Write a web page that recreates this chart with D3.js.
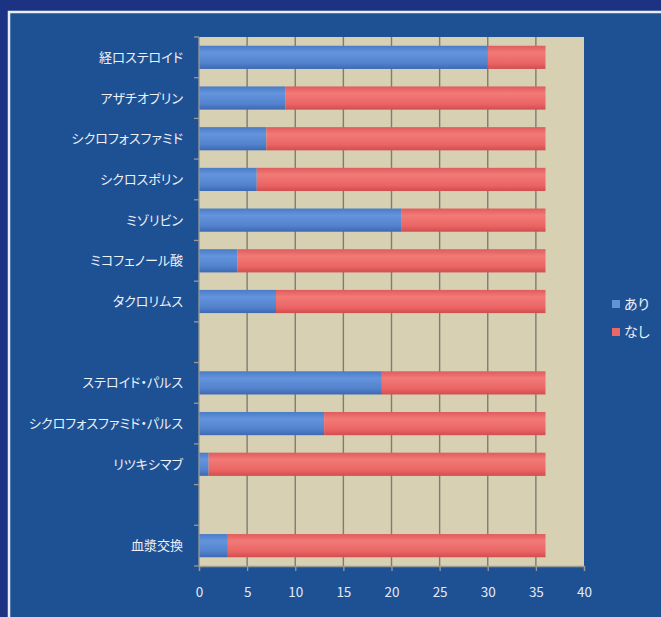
<!DOCTYPE html>
<html>
<head>
<meta charset="utf-8">
<script src="https://cdn.jsdelivr.net/npm/d3@7"></script>
<style>
  html, body { margin: 0; padding: 0; background: #1b3382; }
  svg { display: block; }
  text { font-family: "Noto Sans CJK JP", "Noto Sans", sans-serif; font-feature-settings: "palt"; }
</style>
</head>
<body>
<svg id="chart" width="661" height="617"></svg>
<script>
// Treatment categories (blank entries are spacer rows between groups)
const categories = ["経口ステロイド", "アザチオプリン", "シクロフォスファミド", "シクロスポリン", "ミゾリビン",
  "ミコフェノール酸", "タクロリムス", "", "ステロイド・パルス", "シクロフォスファミド・パルス", "リツキシマブ", "", "血漿交換"];
// Patients with the treatment ("あり") and without it ("なし")
const ari   = [30, 9, 7, 6, 21, 4, 8, null, 19, 13, 1, null, 3];
const nashi = [6, 27, 29, 30, 15, 32, 28, null, 17, 23, 35, null, 33];
const seriesNames = ["あり", "なし"];
const xTicks = [0, 5, 10, 15, 20, 25, 30, 35, 40];

const svg = d3.select("#chart");
const W = 661, H = 617;

// Outer frame and inner panel
svg.append("rect").attr("width", W).attr("height", H).attr("fill", "#1b3382");
svg.append("rect").attr("x", 9).attr("y", 12).attr("width", W).attr("height", H)
  .attr("fill", "#1e5194").attr("stroke", "#e9edf6").attr("stroke-width", 2.5);

const plot = { left: 199, right: 584, top: 37, bottom: 566 };

const x = d3.scaleLinear().domain([0, 40]).range([plot.left, plot.right]);
const y = d3.scaleBand().domain(d3.range(categories.length))
  .range([plot.top, plot.bottom]).paddingInner(0.43).paddingOuter(0.215);

// Bar gradients
const defs = svg.append("defs");
function grad(id, stops) {
  const g = defs.append("linearGradient").attr("id", id)
    .attr("x1", 0).attr("y1", 0).attr("x2", 0).attr("y2", 1);
  stops.forEach(([o, c]) => g.append("stop").attr("offset", o).attr("stop-color", c));
}
grad("gBlue", [[0, "#4a7bc6"], [0.3, "#6394dc"], [0.75, "#5282cc"], [1, "#3d68b2"]]);
grad("gRed", [[0, "#e05c5c"], [0.3, "#f27a77"], [0.75, "#ea6564"], [1, "#d14d4f"]]);

// Plot area
svg.append("rect").attr("x", plot.left).attr("y", plot.top)
  .attr("width", plot.right - plot.left).attr("height", plot.bottom - plot.top)
  .attr("fill", "#d8d0b2");

// Vertical gridlines
svg.append("g").selectAll("line").data(xTicks.filter(t => t > 0 && t < 40)).join("line")
  .attr("x1", d => x(d)).attr("x2", d => x(d))
  .attr("y1", plot.top).attr("y2", plot.bottom)
  .attr("stroke", "#7e7c73").attr("stroke-width", 1.4);

// Stacked bars
const rows = categories.map((c, i) => ({ i, c, a: ari[i], n: nashi[i] })).filter(d => d.a != null);
const barG = svg.append("g");
barG.selectAll("rect.ari").data(rows).join("rect").attr("class", "ari")
  .attr("x", x(0)).attr("y", d => y(d.i))
  .attr("width", d => x(d.a) - x(0)).attr("height", y.bandwidth())
  .attr("fill", "url(#gBlue)");
barG.selectAll("rect.nashi").data(rows).join("rect").attr("class", "nashi")
  .attr("x", d => x(d.a)).attr("y", d => y(d.i))
  .attr("width", d => x(d.a + d.n) - x(d.a)).attr("height", y.bandwidth())
  .attr("fill", "url(#gRed)");

// X axis
const xAxis = svg.append("g").attr("transform", `translate(0,${plot.bottom})`)
  .call(d3.axisBottom(x).tickValues(xTicks).tickSize(5).tickPadding(16));
xAxis.select(".domain").attr("stroke", "#9a9a94").attr("stroke-width", 1.3);
xAxis.selectAll(".tick line").attr("stroke", "#9a9a94").attr("stroke-width", 1.3);
xAxis.selectAll(".tick text").attr("fill", "#e4e9f4").attr("font-size", 13.5);

// Y axis: ticks at category boundaries
const yBounds = d3.range(categories.length + 1).map(i => plot.top + i * (plot.bottom - plot.top) / categories.length);
svg.append("line").attr("x1", plot.left).attr("x2", plot.left)
  .attr("y1", plot.top).attr("y2", plot.bottom).attr("stroke", "#9a9a94").attr("stroke-width", 1.3);
svg.append("g").selectAll("line").data(yBounds).join("line")
  .attr("x1", plot.left - 5).attr("x2", plot.left)
  .attr("y1", d => d).attr("y2", d => d)
  .attr("stroke", "#9a9a94").attr("stroke-width", 1.3);

// Category labels
svg.append("g").selectAll("text").data(categories.map((c, i) => ({ c, i })).filter(d => d.c)).join("text")
  .attr("x", 183).attr("y", d => y(d.i) + y.bandwidth() / 2)
  .attr("dy", "0.35em").attr("text-anchor", "end")
  .attr("fill", "#eef1f8").attr("font-size", 13)
  .text(d => d.c);

// Legend
const legend = svg.append("g").attr("transform", "translate(612,300)");
const legendColors = ["#6392d8", "#ec6868"];
seriesNames.forEach((s, k) => {
  const g = legend.append("g").attr("transform", `translate(0,${k * 28})`);
  g.append("rect").attr("x", 0).attr("y", 0).attr("width", 8).attr("height", 8).attr("fill", legendColors[k]);
  g.append("text").attr("x", 12).attr("y", 4).attr("dy", "0.38em")
    .attr("fill", "#eef1f8").attr("font-size", 14).text(s);
});
</script>
</body>
</html>
